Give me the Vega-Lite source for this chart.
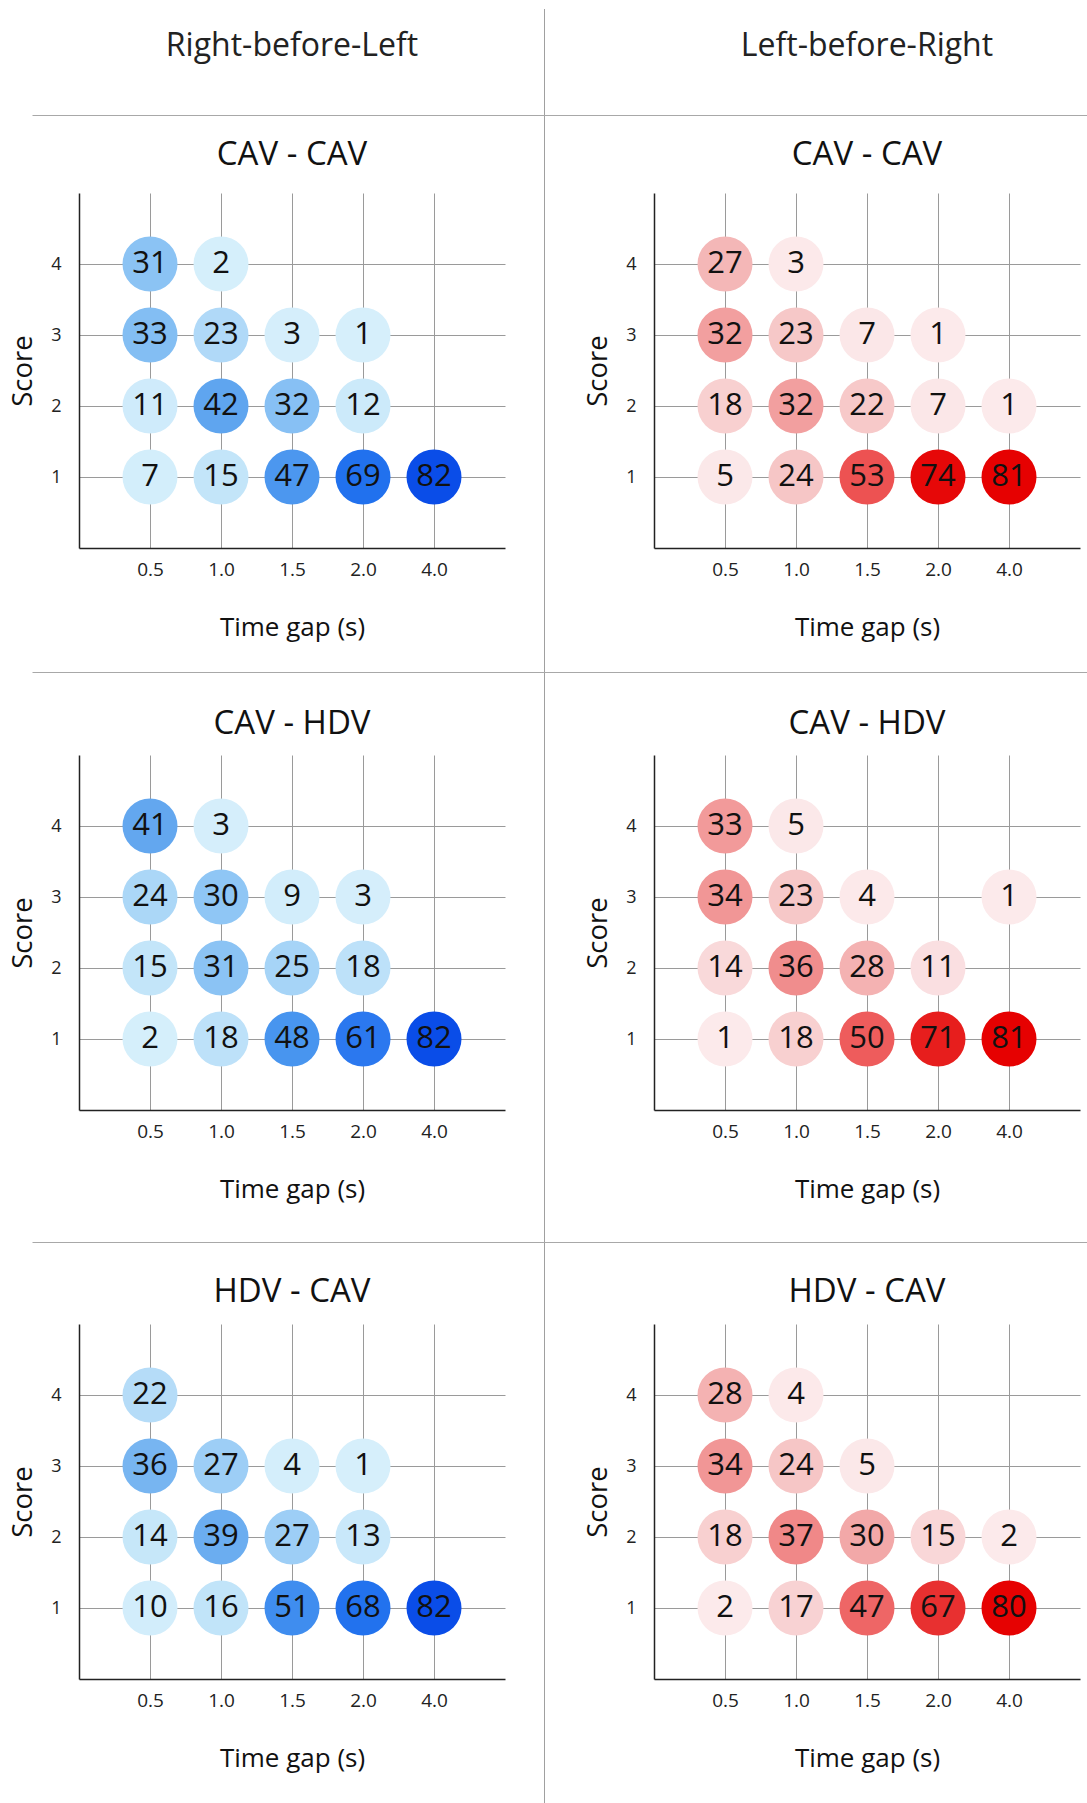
{
  "$schema": "https://vega.github.io/schema/vega-lite/v6.json",
  "padding": {"left": 9, "top": 9, "right": 0, "bottom": 0},
  "background": "white",
  "datasets": {
    "rbl_cc": [
      {"gap": "0.5", "score": 4, "n": 31}, {"gap": "1.0", "score": 4, "n": 2},
      {"gap": "0.5", "score": 3, "n": 33}, {"gap": "1.0", "score": 3, "n": 23}, {"gap": "1.5", "score": 3, "n": 3}, {"gap": "2.0", "score": 3, "n": 1},
      {"gap": "0.5", "score": 2, "n": 11}, {"gap": "1.0", "score": 2, "n": 42}, {"gap": "1.5", "score": 2, "n": 32}, {"gap": "2.0", "score": 2, "n": 12},
      {"gap": "0.5", "score": 1, "n": 7}, {"gap": "1.0", "score": 1, "n": 15}, {"gap": "1.5", "score": 1, "n": 47}, {"gap": "2.0", "score": 1, "n": 69}, {"gap": "4.0", "score": 1, "n": 82}
    ],
    "lbr_cc": [
      {"gap": "0.5", "score": 4, "n": 27}, {"gap": "1.0", "score": 4, "n": 3},
      {"gap": "0.5", "score": 3, "n": 32}, {"gap": "1.0", "score": 3, "n": 23}, {"gap": "1.5", "score": 3, "n": 7}, {"gap": "2.0", "score": 3, "n": 1},
      {"gap": "0.5", "score": 2, "n": 18}, {"gap": "1.0", "score": 2, "n": 32}, {"gap": "1.5", "score": 2, "n": 22}, {"gap": "2.0", "score": 2, "n": 7}, {"gap": "4.0", "score": 2, "n": 1},
      {"gap": "0.5", "score": 1, "n": 5}, {"gap": "1.0", "score": 1, "n": 24}, {"gap": "1.5", "score": 1, "n": 53}, {"gap": "2.0", "score": 1, "n": 74}, {"gap": "4.0", "score": 1, "n": 81}
    ],
    "rbl_ch": [
      {"gap": "0.5", "score": 4, "n": 41}, {"gap": "1.0", "score": 4, "n": 3},
      {"gap": "0.5", "score": 3, "n": 24}, {"gap": "1.0", "score": 3, "n": 30}, {"gap": "1.5", "score": 3, "n": 9}, {"gap": "2.0", "score": 3, "n": 3},
      {"gap": "0.5", "score": 2, "n": 15}, {"gap": "1.0", "score": 2, "n": 31}, {"gap": "1.5", "score": 2, "n": 25}, {"gap": "2.0", "score": 2, "n": 18},
      {"gap": "0.5", "score": 1, "n": 2}, {"gap": "1.0", "score": 1, "n": 18}, {"gap": "1.5", "score": 1, "n": 48}, {"gap": "2.0", "score": 1, "n": 61}, {"gap": "4.0", "score": 1, "n": 82}
    ],
    "lbr_ch": [
      {"gap": "0.5", "score": 4, "n": 33}, {"gap": "1.0", "score": 4, "n": 5},
      {"gap": "0.5", "score": 3, "n": 34}, {"gap": "1.0", "score": 3, "n": 23}, {"gap": "1.5", "score": 3, "n": 4}, {"gap": "4.0", "score": 3, "n": 1},
      {"gap": "0.5", "score": 2, "n": 14}, {"gap": "1.0", "score": 2, "n": 36}, {"gap": "1.5", "score": 2, "n": 28}, {"gap": "2.0", "score": 2, "n": 11},
      {"gap": "0.5", "score": 1, "n": 1}, {"gap": "1.0", "score": 1, "n": 18}, {"gap": "1.5", "score": 1, "n": 50}, {"gap": "2.0", "score": 1, "n": 71}, {"gap": "4.0", "score": 1, "n": 81}
    ],
    "rbl_hc": [
      {"gap": "0.5", "score": 4, "n": 22},
      {"gap": "0.5", "score": 3, "n": 36}, {"gap": "1.0", "score": 3, "n": 27}, {"gap": "1.5", "score": 3, "n": 4}, {"gap": "2.0", "score": 3, "n": 1},
      {"gap": "0.5", "score": 2, "n": 14}, {"gap": "1.0", "score": 2, "n": 39}, {"gap": "1.5", "score": 2, "n": 27}, {"gap": "2.0", "score": 2, "n": 13},
      {"gap": "0.5", "score": 1, "n": 10}, {"gap": "1.0", "score": 1, "n": 16}, {"gap": "1.5", "score": 1, "n": 51}, {"gap": "2.0", "score": 1, "n": 68}, {"gap": "4.0", "score": 1, "n": 82}
    ],
    "lbr_hc": [
      {"gap": "0.5", "score": 4, "n": 28}, {"gap": "1.0", "score": 4, "n": 4},
      {"gap": "0.5", "score": 3, "n": 34}, {"gap": "1.0", "score": 3, "n": 24}, {"gap": "1.5", "score": 3, "n": 5},
      {"gap": "0.5", "score": 2, "n": 18}, {"gap": "1.0", "score": 2, "n": 37}, {"gap": "1.5", "score": 2, "n": 30}, {"gap": "2.0", "score": 2, "n": 15}, {"gap": "4.0", "score": 2, "n": 2},
      {"gap": "0.5", "score": 1, "n": 2}, {"gap": "1.0", "score": 1, "n": 17}, {"gap": "1.5", "score": 1, "n": 47}, {"gap": "2.0", "score": 1, "n": 67}, {"gap": "4.0", "score": 1, "n": 80}
    ]
  },
  "vconcat": [
    {
      "hconcat": [
        {"width": 426, "height": 74, "data": {"values": [{"label": "Right-before-Left"}]},
         "mark": {"type": "text", "font": "Open Sans", "fontSize": 32, "baseline": "middle", "color": "#222"},
         "encoding": {"text": {"field": "label", "type": "nominal"}}},
        {"width": 1, "height": 106, "data": {"values": []}, "mark": "point", "view": {"fill": "#a0a0a0", "stroke": null}},
        {"width": 31, "height": 1, "data": {"values": []}, "mark": "point"},
        {"width": 426, "height": 74, "data": {"values": [{"label": "Left-before-Right"}]},
         "mark": {"type": "text", "font": "Open Sans", "fontSize": 32, "baseline": "middle", "color": "#222"},
         "encoding": {"text": {"field": "label", "type": "nominal"}}}
      ],
      "spacing": 39
    },
    {
      "width": 1008, "height": 1, "data": {"values": []}, "mark": "point",
      "encoding": {"x": {"field": "v", "type": "quantitative", "scale": {"domain": [0, 1], "range": [-47, 1010]}, "axis": {"orient": "top", "domain": true, "domainColor": "#a8a8a8", "domainWidth": 1, "labels": false, "ticks": false, "grid": false, "title": null}}}
    },
    {
      "hconcat": [
        {"width": 426, "height": 77, "data": {"values": [{"label": "CAV - CAV"}]},
         "mark": {"type": "text", "font": "Open Sans", "fontSize": 33, "baseline": "middle", "color": "#111"},
         "encoding": {"text": {"field": "label", "type": "nominal"}}},
        {"width": 1, "height": 77, "data": {"values": []}, "mark": "point", "view": {"fill": "#a0a0a0", "stroke": null}},
        {"width": 31, "height": 1, "data": {"values": []}, "mark": "point"},
        {"width": 426, "height": 77, "data": {"values": [{"label": "CAV - CAV"}]},
         "mark": {"type": "text", "font": "Open Sans", "fontSize": 33, "baseline": "middle", "color": "#111"},
         "encoding": {"text": {"field": "label", "type": "nominal"}}}
      ],
      "spacing": 39
    },
    {
      "hconcat": [
        {
          "width": 426, "height": 355, "data": {"name": "rbl_cc"},
          "encoding": {
            "x": {"field": "gap", "type": "ordinal", "scale": {"type": "point", "padding": 1, "domain": ["0.5", "1.0", "1.5", "2.0", "4.0"]}, "axis": {"title": "Time gap (s)"}},
            "y": {"field": "score", "type": "quantitative", "scale": {"domain": [0, 5], "nice": false, "zero": false}, "axis": {"title": "Score", "values": [1, 2, 3, 4]}}
          },
          "layer": [
            {"mark": {"type": "circle", "size": 3025, "opacity": 1}, "encoding": {"color": {"field": "n", "type": "quantitative", "legend": null, "scale": {"domain": [0, 10, 15, 22, 30, 40, 50, 61, 70, 82], "range": ["#d6effb", "#d2edfb", "#c3e5f9", "#b5dcf8", "#8fc6f5", "#67aaef", "#418fef", "#2b78ef", "#2070ee", "#0a4de8"]}}}},
            {"mark": {"type": "text", "font": "Open Sans", "fontSize": 31, "color": "#111", "baseline": "middle"}, "encoding": {"text": {"field": "n", "type": "quantitative"}}}
          ]
        },
        {"width": 1, "height": 479, "data": {"values": []}, "mark": "point", "view": {"fill": "#a0a0a0", "stroke": null}},
        {
          "width": 426, "height": 355, "data": {"name": "lbr_cc"},
          "encoding": {
            "x": {"field": "gap", "type": "ordinal", "scale": {"type": "point", "padding": 1, "domain": ["0.5", "1.0", "1.5", "2.0", "4.0"]}, "axis": {"title": "Time gap (s)"}},
            "y": {"field": "score", "type": "quantitative", "scale": {"domain": [0, 5], "nice": false, "zero": false}, "axis": {"title": "Score", "values": [1, 2, 3, 4]}}
          },
          "layer": [
            {"mark": {"type": "circle", "size": 3025, "opacity": 1}, "encoding": {"color": {"field": "n", "type": "quantitative", "legend": null, "scale": {"domain": [0, 8, 18, 24, 30, 37, 47, 53, 67, 74, 82], "range": ["#fcebec", "#fbe6e8", "#f8d0d0", "#f6c6c6", "#f2a8a8", "#f08888", "#ee6666", "#ed5252", "#e83030", "#e60808", "#e60000"]}}}},
            {"mark": {"type": "text", "font": "Open Sans", "fontSize": 31, "color": "#111", "baseline": "middle"}, "encoding": {"text": {"field": "n", "type": "quantitative"}}}
          ]
        }
      ],
      "spacing": 39,
      "resolve": {"scale": {"color": "independent"}}
    },
    {
      "width": 1008, "height": 1, "data": {"values": []}, "mark": "point",
      "encoding": {"x": {"field": "v", "type": "quantitative", "scale": {"domain": [0, 1], "range": [-47, 1010]}, "axis": {"orient": "top", "domain": true, "domainColor": "#a8a8a8", "domainWidth": 1, "labels": false, "ticks": false, "grid": false, "title": null}}}
    },
    {
      "hconcat": [
        {"width": 426, "height": 82, "data": {"values": [{"label": "CAV - HDV"}]},
         "mark": {"type": "text", "font": "Open Sans", "fontSize": 33, "baseline": "middle", "dy": 10, "color": "#111"},
         "encoding": {"text": {"field": "label", "type": "nominal"}}},
        {"width": 1, "height": 82, "data": {"values": []}, "mark": "point", "view": {"fill": "#a0a0a0", "stroke": null}},
        {"width": 31, "height": 1, "data": {"values": []}, "mark": "point"},
        {"width": 426, "height": 82, "data": {"values": [{"label": "CAV - HDV"}]},
         "mark": {"type": "text", "font": "Open Sans", "fontSize": 33, "baseline": "middle", "dy": 10, "color": "#111"},
         "encoding": {"text": {"field": "label", "type": "nominal"}}}
      ],
      "spacing": 39
    },
    {
      "hconcat": [
        {
          "width": 426, "height": 355, "data": {"name": "rbl_ch"},
          "encoding": {
            "x": {"field": "gap", "type": "ordinal", "scale": {"type": "point", "padding": 1, "domain": ["0.5", "1.0", "1.5", "2.0", "4.0"]}, "axis": {"title": "Time gap (s)"}},
            "y": {"field": "score", "type": "quantitative", "scale": {"domain": [0, 5], "nice": false, "zero": false}, "axis": {"title": "Score", "values": [1, 2, 3, 4]}}
          },
          "layer": [
            {"mark": {"type": "circle", "size": 3025, "opacity": 1}, "encoding": {"color": {"field": "n", "type": "quantitative", "legend": null, "scale": {"domain": [0, 10, 15, 22, 30, 40, 50, 61, 70, 82], "range": ["#d6effb", "#d2edfb", "#c3e5f9", "#b5dcf8", "#8fc6f5", "#67aaef", "#418fef", "#2b78ef", "#2070ee", "#0a4de8"]}}}},
            {"mark": {"type": "text", "font": "Open Sans", "fontSize": 31, "color": "#111", "baseline": "middle"}, "encoding": {"text": {"field": "n", "type": "quantitative"}}}
          ]
        },
        {"width": 1, "height": 487, "data": {"values": []}, "mark": "point", "view": {"fill": "#a0a0a0", "stroke": null}},
        {
          "width": 426, "height": 355, "data": {"name": "lbr_ch"},
          "encoding": {
            "x": {"field": "gap", "type": "ordinal", "scale": {"type": "point", "padding": 1, "domain": ["0.5", "1.0", "1.5", "2.0", "4.0"]}, "axis": {"title": "Time gap (s)"}},
            "y": {"field": "score", "type": "quantitative", "scale": {"domain": [0, 5], "nice": false, "zero": false}, "axis": {"title": "Score", "values": [1, 2, 3, 4]}}
          },
          "layer": [
            {"mark": {"type": "circle", "size": 3025, "opacity": 1}, "encoding": {"color": {"field": "n", "type": "quantitative", "legend": null, "scale": {"domain": [0, 8, 18, 24, 30, 37, 47, 53, 67, 74, 82], "range": ["#fcebec", "#fbe6e8", "#f8d0d0", "#f6c6c6", "#f2a8a8", "#f08888", "#ee6666", "#ed5252", "#e83030", "#e60808", "#e60000"]}}}},
            {"mark": {"type": "text", "font": "Open Sans", "fontSize": 31, "color": "#111", "baseline": "middle"}, "encoding": {"text": {"field": "n", "type": "quantitative"}}}
          ]
        }
      ],
      "spacing": 39,
      "resolve": {"scale": {"color": "independent"}}
    },
    {
      "width": 1008, "height": 1, "data": {"values": []}, "mark": "point",
      "encoding": {"x": {"field": "v", "type": "quantitative", "scale": {"domain": [0, 1], "range": [-47, 1010]}, "axis": {"orient": "top", "domain": true, "domainColor": "#a8a8a8", "domainWidth": 1, "labels": false, "ticks": false, "grid": false, "title": null}}}
    },
    {
      "hconcat": [
        {"width": 426, "height": 81, "data": {"values": [{"label": "HDV - CAV"}]},
         "mark": {"type": "text", "font": "Open Sans", "fontSize": 33, "baseline": "middle", "dy": 8, "color": "#111"},
         "encoding": {"text": {"field": "label", "type": "nominal"}}},
        {"width": 1, "height": 81, "data": {"values": []}, "mark": "point", "view": {"fill": "#a0a0a0", "stroke": null}},
        {"width": 31, "height": 1, "data": {"values": []}, "mark": "point"},
        {"width": 426, "height": 81, "data": {"values": [{"label": "HDV - CAV"}]},
         "mark": {"type": "text", "font": "Open Sans", "fontSize": 33, "baseline": "middle", "dy": 8, "color": "#111"},
         "encoding": {"text": {"field": "label", "type": "nominal"}}}
      ],
      "spacing": 39
    },
    {
      "hconcat": [
        {
          "width": 426, "height": 355, "data": {"name": "rbl_hc"},
          "encoding": {
            "x": {"field": "gap", "type": "ordinal", "scale": {"type": "point", "padding": 1, "domain": ["0.5", "1.0", "1.5", "2.0", "4.0"]}, "axis": {"title": "Time gap (s)"}},
            "y": {"field": "score", "type": "quantitative", "scale": {"domain": [0, 5], "nice": false, "zero": false}, "axis": {"title": "Score", "values": [1, 2, 3, 4]}}
          },
          "layer": [
            {"mark": {"type": "circle", "size": 3025, "opacity": 1}, "encoding": {"color": {"field": "n", "type": "quantitative", "legend": null, "scale": {"domain": [0, 10, 15, 22, 30, 40, 50, 61, 70, 82], "range": ["#d6effb", "#d2edfb", "#c3e5f9", "#b5dcf8", "#8fc6f5", "#67aaef", "#418fef", "#2b78ef", "#2070ee", "#0a4de8"]}}}},
            {"mark": {"type": "text", "font": "Open Sans", "fontSize": 31, "color": "#111", "baseline": "middle"}, "encoding": {"text": {"field": "n", "type": "quantitative"}}}
          ]
        },
        {"width": 1, "height": 479, "data": {"values": []}, "mark": "point", "view": {"fill": "#a0a0a0", "stroke": null}},
        {
          "width": 426, "height": 355, "data": {"name": "lbr_hc"},
          "encoding": {
            "x": {"field": "gap", "type": "ordinal", "scale": {"type": "point", "padding": 1, "domain": ["0.5", "1.0", "1.5", "2.0", "4.0"]}, "axis": {"title": "Time gap (s)"}},
            "y": {"field": "score", "type": "quantitative", "scale": {"domain": [0, 5], "nice": false, "zero": false}, "axis": {"title": "Score", "values": [1, 2, 3, 4]}}
          },
          "layer": [
            {"mark": {"type": "circle", "size": 3025, "opacity": 1}, "encoding": {"color": {"field": "n", "type": "quantitative", "legend": null, "scale": {"domain": [0, 8, 18, 24, 30, 37, 47, 53, 67, 74, 82], "range": ["#fcebec", "#fbe6e8", "#f8d0d0", "#f6c6c6", "#f2a8a8", "#f08888", "#ee6666", "#ed5252", "#e83030", "#e60808", "#e60000"]}}}},
            {"mark": {"type": "text", "font": "Open Sans", "fontSize": 31, "color": "#111", "baseline": "middle"}, "encoding": {"text": {"field": "n", "type": "quantitative"}}}
          ]
        }
      ],
      "spacing": 39,
      "resolve": {"scale": {"color": "independent"}}
    }
  ],
  "spacing": 0,
  "resolve": {"scale": {"color": "independent"}},
  "config": {
    "view": {"stroke": null},
    "font": "Open Sans",
    "axis": {"labelFont": "Open Sans", "titleFont": "Open Sans", "titleFontWeight": "normal", "labelColor": "#222", "titleColor": "#111", "grid": true, "gridColor": "#9a9a9a", "gridWidth": 1, "domainColor": "#222", "domainWidth": 1.5, "ticks": false, "tickSize": 0},
    "axisX": {"labelFontSize": 19, "labelPadding": 12, "labelAngle": 0, "titleFontSize": 26, "titlePadding": 35},
    "axisY": {"labelFontSize": 18, "labelPadding": 18, "titleFontSize": 27.5, "titlePadding": 12, "minExtent": 30, "maxExtent": 30},
    "concat": {"spacing": 0}
  }
}
